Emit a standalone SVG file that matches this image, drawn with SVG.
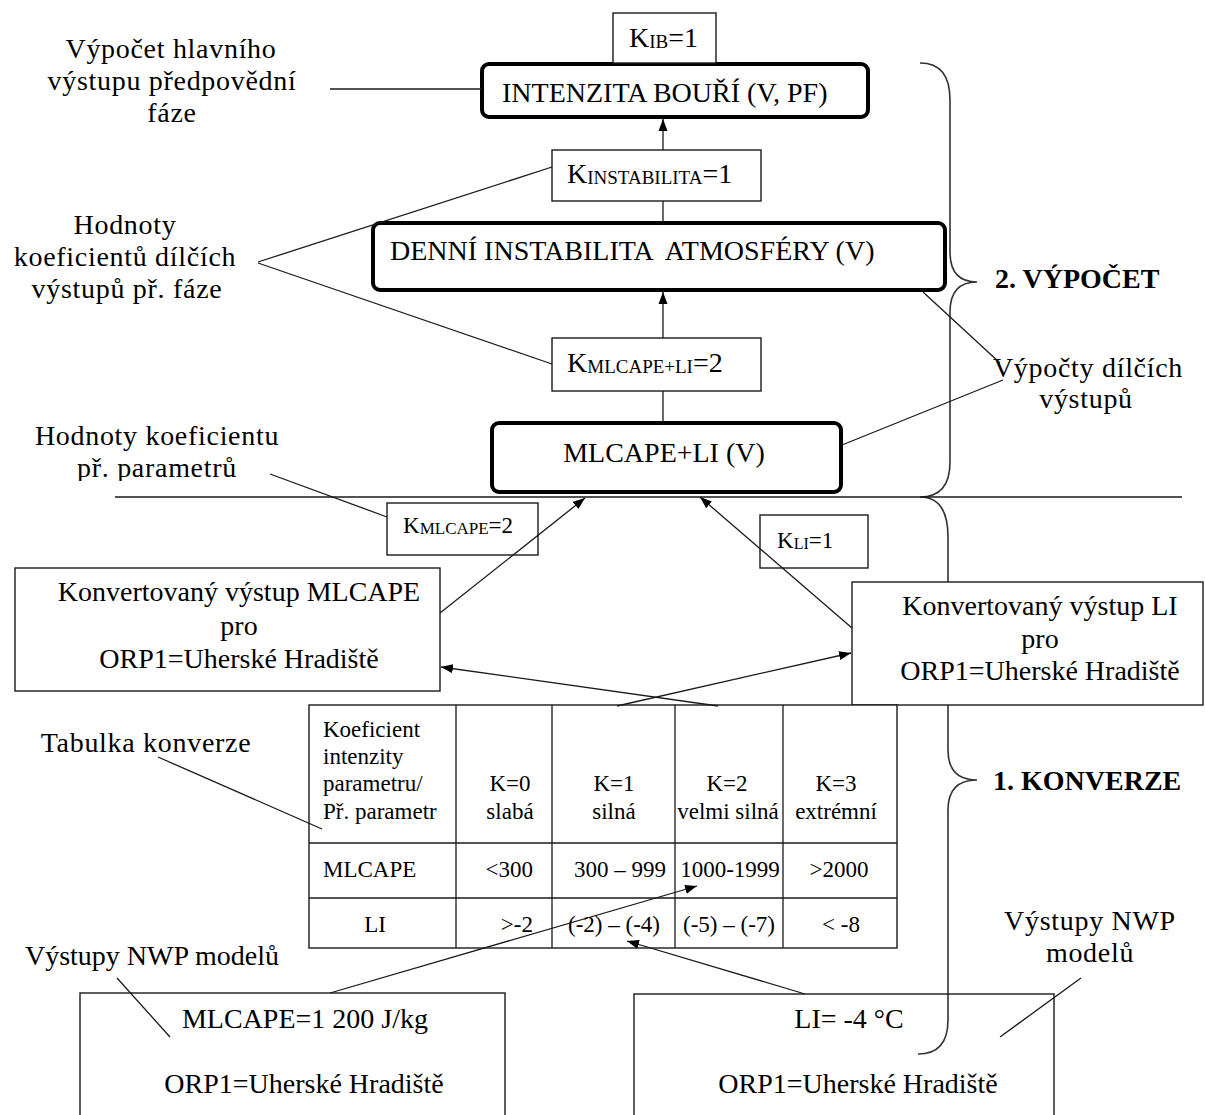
<svg xmlns="http://www.w3.org/2000/svg" width="1205" height="1115" viewBox="0 0 1205 1115">
  <style>
    .t { font-family: "Liberation Serif", "Times New Roman", serif; font-size: 28px; fill: #000; }
    .c { text-anchor: middle; }
    .lbl { letter-spacing: 0.7px; }
    .tb { font-size: 23px; }
    .b { font-weight: bold; }
    .sc { font-size: 19px; }
    .pre { white-space: pre; }
    .thick { fill: #fff; stroke: #000; stroke-width: 4; }
    .box { fill: #fff; stroke: #1a1a1a; stroke-width: 1.4; }
    .open { fill: none; stroke: #1a1a1a; stroke-width: 1.4; }
    .ln { fill: none; stroke: #1a1a1a; stroke-width: 1.3; }
    .brace { fill: none; stroke: #333; stroke-width: 1.6; }
    .arr { marker-end: url(#ah); }
  </style>
  <defs>
    <marker id="ah" viewBox="0 0 12 10" refX="12" refY="5" markerWidth="12" markerHeight="10" markerUnits="userSpaceOnUse" orient="auto">
      <path d="M0,0.5 L12,5 L0,9.5 z" fill="#000"/>
    </marker>
    <clipPath id="cutLabel">
      <rect x="0" y="400" width="400" height="81"/>
    </clipPath>
  </defs>
  <rect width="1205" height="1115" fill="#fff"/>

  <!-- section braces and divider -->
  <g id="braces">
    <path class="brace" d="M920,63 Q950,63 950,100 V252 Q950,282 977,282 Q950,282 950,312 V462 Q950,497 920,497"/>
    <path class="brace" d="M920,497 Q948,497 948,537 V750 Q948,780 977,780 Q948,780 948,810 V1020 Q948,1054 918,1054"/>
    <line class="ln" x1="115" y1="497" x2="1182" y2="497"/>
    <text class="t b" x="995" y="288">2. VÝPOČET</text>
    <text class="t b" x="993" y="790">1. KONVERZE</text>
  </g>

  <!-- calculation stage -->
  <g id="n-intenzita">
    <rect class="thick" x="482" y="64" width="386" height="53" rx="7"/>
    <text class="t" x="502" y="102">INTENZITA BOUŘÍ (V, PF)</text>
  </g>
  <g id="n-kib">
    <rect class="box" x="613" y="13" width="103" height="50"/>
    <text class="t" x="629" y="47">K<tspan class="sc" dy="1">IB</tspan><tspan dy="-1">=1</tspan></text>
  </g>
  <g id="n-kinstabilita">
    <rect class="box" x="552" y="150" width="209" height="51"/>
    <text class="t" x="567" y="183">K<tspan class="sc" dy="1">INSTABILITA</tspan><tspan dy="-1">=1</tspan></text>
  </g>
  <g id="n-denni">
    <rect class="thick" x="373" y="223" width="572" height="67" rx="7"/>
    <text class="t pre" x="390" y="260">DENNÍ INSTABILITA  ATMOSFÉRY (V)</text>
  </g>
  <g id="n-kmlcapeli">
    <rect class="box" x="552" y="338" width="209" height="53"/>
    <text class="t" x="567" y="372">K<tspan class="sc" dy="1">MLCAPE+LI</tspan><tspan dy="-1">=2</tspan></text>
  </g>
  <g id="n-mlcapeli">
    <rect class="thick" x="492" y="423" width="349" height="69" rx="7"/>
    <text class="t c" x="664" y="462">MLCAPE+LI (V)</text>
  </g>

  <!-- conversion stage -->
  <g id="n-kmlcape">
    <rect class="box" x="387" y="503" width="151" height="52"/>
    <text class="t tb" x="403" y="533">K<tspan style="font-size:17px" dy="1">MLCAPE</tspan><tspan dy="-1">=2</tspan></text>
  </g>
  <g id="n-kli">
    <rect class="box" x="760" y="515" width="108" height="53"/>
    <text class="t tb" x="777" y="548">K<tspan style="font-size:16px" dy="1">LI</tspan><tspan dy="-1">=1</tspan></text>
  </g>
  <g id="n-konv-mlcape">
    <rect class="box" x="15" y="568" width="425" height="123"/>
    <text class="t c" x="239" y="601">Konvertovaný výstup MLCAPE</text>
    <text class="t c" x="239" y="635">pro</text>
    <text class="t c" x="239" y="668">ORP1=Uherské Hradiště</text>
  </g>
  <g id="n-konv-li">
    <rect class="box" x="852" y="582" width="351" height="123"/>
    <text class="t c" x="1040" y="615">Konvertovaný výstup LI</text>
    <text class="t c" x="1040" y="648">pro</text>
    <text class="t c" x="1040" y="680">ORP1=Uherské Hradiště</text>
  </g>

  <!-- conversion table -->
  <g id="n-tabulka">
    <rect class="box" x="309" y="705" width="588" height="243"/>
    <g class="ln">
      <line x1="456" y1="705" x2="456" y2="948"/>
      <line x1="552" y1="705" x2="552" y2="948"/>
      <line x1="675" y1="705" x2="675" y2="948"/>
      <line x1="783" y1="705" x2="783" y2="948"/>
      <line x1="309" y1="843" x2="897" y2="843"/>
      <line x1="309" y1="898" x2="897" y2="898"/>
    </g>
    <text class="t tb" x="323" y="737">Koeficient</text>
    <text class="t tb" x="323" y="764">intenzity</text>
    <text class="t tb" x="323" y="791">parametru/</text>
    <text class="t tb" x="323" y="819">Př. parametr</text>
    <text class="t tb c" x="510" y="791">K=0</text>
    <text class="t tb c" x="510" y="819">slabá</text>
    <text class="t tb c" x="614" y="791">K=1</text>
    <text class="t tb c" x="614" y="819">silná</text>
    <text class="t tb c" x="727" y="791">K=2</text>
    <text class="t tb c" x="728" y="819">velmi silná</text>
    <text class="t tb c" x="836" y="791">K=3</text>
    <text class="t tb c" x="836" y="819">extrémní</text>
    <text class="t tb" x="323" y="877">MLCAPE</text>
    <text class="t tb" x="533" y="877" text-anchor="end">&lt;300</text>
    <text class="t tb c" x="620" y="877">300 – 999</text>
    <text class="t tb c" x="730" y="877">1000-1999</text>
    <text class="t tb c" x="839" y="877">&gt;2000</text>
    <text class="t tb c" x="375" y="932">LI</text>
    <text class="t tb" x="533" y="932" text-anchor="end">&gt;-2</text>
    <text class="t tb c" x="614" y="932">(-2) – (-4)</text>
    <text class="t tb c" x="729" y="932">(-5) – (-7)</text>
    <text class="t tb c" x="841" y="932">&lt; -8</text>
  </g>

  <!-- model inputs -->
  <g id="n-nwp-mlcape">
    <rect class="open" x="80" y="993" width="425" height="140"/>
    <text class="t c" x="305" y="1028">MLCAPE=1 200 J/kg</text>
    <text class="t c" x="304" y="1093">ORP1=Uherské Hradiště</text>
  </g>
  <g id="n-nwp-li">
    <rect class="open" x="634" y="994" width="420" height="140"/>
    <text class="t c" x="849" y="1028">LI= -4 °C</text>
    <text class="t c" x="858" y="1093">ORP1=Uherské Hradiště</text>
  </g>

  <!-- side annotations -->
  <g id="lbl-hlavni">
    <text class="t c lbl" x="171" y="58">Výpočet hlavního</text>
    <text class="t c lbl" x="172" y="90">výstupu předpovědní</text>
    <text class="t c lbl" x="172" y="122">fáze</text>
  </g>
  <g id="lbl-koef-dilcich">
    <text class="t c lbl" x="125" y="234">Hodnoty</text>
    <text class="t c lbl" x="125" y="266">koeficientů dílčích</text>
    <text class="t c lbl" x="127" y="298">výstupů př. fáze</text>
  </g>
  <g id="lbl-koef-param">
    <text class="t c lbl" x="157" y="445">Hodnoty koeficientu</text>
    <text class="t c lbl" x="157" y="477" clip-path="url(#cutLabel)">př. parametrů</text>
  </g>
  <g id="lbl-dilci">
    <text class="t c lbl" x="1088" y="377">Výpočty dílčích</text>
    <text class="t c lbl" x="1086" y="408">výstupů</text>
  </g>
  <g id="lbl-tabulka">
    <text class="t c lbl" x="146" y="752">Tabulka konverze</text>
  </g>
  <g id="lbl-nwp-left">
    <text class="t c" x="152" y="965">Výstupy NWP modelů</text>
  </g>
  <g id="lbl-nwp-right">
    <text class="t c lbl" x="1090" y="930">Výstupy NWP</text>
    <text class="t c lbl" x="1090" y="962">modelů</text>
  </g>

  <!-- connectors -->
  <g id="connectors">
    <line class="ln" x1="330" y1="89" x2="482" y2="89"/>
    <line class="ln arr" x1="663" y1="150" x2="663" y2="119"/>
    <line class="ln" x1="663" y1="201" x2="663" y2="222"/>
    <line class="ln arr" x1="663" y1="338" x2="663" y2="292"/>
    <line class="ln" x1="663" y1="391" x2="663" y2="422"/>
    <line class="ln" x1="258" y1="262" x2="552" y2="167"/>
    <line class="ln" x1="258" y1="263" x2="552" y2="364"/>
    <line class="ln" x1="923" y1="292" x2="1000" y2="363"/>
    <line class="ln" x1="842" y1="445" x2="1003" y2="380"/>
    <line class="ln" x1="270" y1="474" x2="387" y2="517"/>
    <line class="ln arr" x1="440" y1="613" x2="585" y2="498"/>
    <line class="ln arr" x1="852" y1="628" x2="700" y2="497"/>
    <line class="ln arr" x1="718" y1="706" x2="441" y2="667"/>
    <line class="ln arr" x1="617" y1="706" x2="851" y2="653"/>
    <line class="ln" x1="158" y1="757" x2="322" y2="829"/>
    <line class="ln arr" x1="330" y1="993" x2="697" y2="886"/>
    <line class="ln arr" x1="805" y1="994" x2="627" y2="941"/>
    <line class="ln" x1="117" y1="978" x2="170" y2="1037"/>
    <line class="ln" x1="1081" y1="978" x2="1000" y2="1037"/>
  </g>
</svg>
